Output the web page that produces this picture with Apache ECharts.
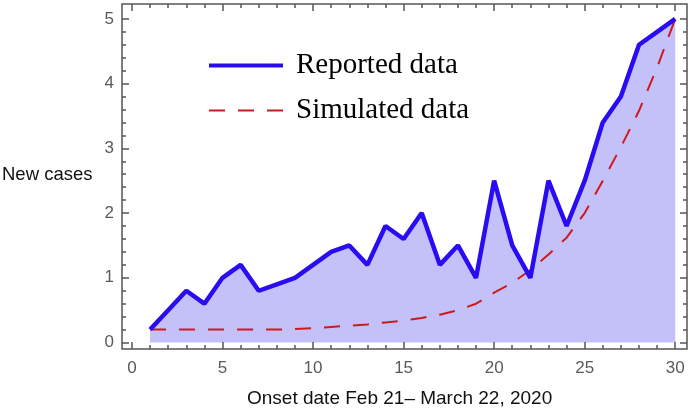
<!DOCTYPE html>
<html>
<head>
<meta charset="utf-8">
<script src="https://cdn.jsdelivr.net/npm/echarts@6/dist/echarts.min.js"></script>
<style>
  html, body { margin: 0; padding: 0; background: #fff; }
  #chart { width: 688px; height: 413px; }
</style>
</head>
<body>
<div id="chart"></div>
<script>
// onset day index (Feb 21 = 1)
const days = [1, 2, 3, 4, 5, 6, 7, 8, 9, 10, 11, 12, 13, 14, 15,
  16, 17, 18, 19, 20, 21, 22, 23, 24, 25, 26, 27, 28, 29, 30];
const reported = [0.2, 0.5, 0.8, 0.6, 1.0, 1.2, 0.8, 0.9, 1.0, 1.2, 1.4, 1.5, 1.2, 1.8, 1.6,
  2.0, 1.2, 1.5, 1.0, 2.5, 1.5, 1.0, 2.5, 1.8, 2.5, 3.4, 3.8, 4.6, 4.8, 5.0];
const simulated = [0.2, 0.2, 0.2, 0.2, 0.2, 0.2, 0.2, 0.2, 0.21, 0.22, 0.24, 0.26, 0.28, 0.31, 0.34,
  0.38, 0.43, 0.5, 0.6, 0.77, 0.92, 1.12, 1.36, 1.62, 2.0, 2.5, 3.02, 3.58, 4.25, 5.0];
const xTicks = [0, 5, 10, 15, 20, 25, 30];
const yTicks = [0, 1, 2, 3, 4, 5];

const xMinor = Array.from({ length: 31 }, (_, i) => i);
const yMinor = Array.from({ length: 26 }, (_, i) => Math.round(i * 2) / 10);

const pairs = (ys) => days.map((d, i) => [d, ys[i]]);

const X_MIN = -0.55, X_MAX = 30.65;
const Y_MIN = -0.1, Y_MAX = 5.23;
const tickColor = "#555";
const blue = "#2a0cf2";
const red = "#cc1a1f";

const tickLabel = (values, margin) => ({
  show: true,
  customValues: values,
  margin: margin,
  color: "#5a5a5a",
  fontSize: 17,
  fontFamily: "Liberation Sans",
});

const xAxisDef = (position, values, len, labels) => ({
  type: "value",
  position: position,
  min: X_MIN,
  max: X_MAX,
  axisLine: { show: false, onZero: false },
  splitLine: { show: false },
  axisTick: {
    show: true,
    inside: true,
    length: len,
    customValues: values,
    lineStyle: { color: tickColor, width: 1.5 },
  },
  axisLabel: labels ? tickLabel(values, 11) : { show: false },
  z: 5,
});

const yAxisDef = (position, values, len, labels) => ({
  type: "value",
  position: position,
  min: Y_MIN,
  max: Y_MAX,
  axisLine: { show: false, onZero: false },
  splitLine: { show: false },
  axisTick: {
    show: true,
    inside: true,
    length: len,
    customValues: values,
    lineStyle: { color: tickColor, width: 1.5 },
  },
  axisLabel: labels ? tickLabel(values, 8) : { show: false },
  z: 5,
});

const chart = echarts.init(document.getElementById("chart"));

chart.setOption({
  animation: false,
  backgroundColor: "#fff",
  grid: {
    left: 122,
    right: 1,
    top: 4,
    bottom: 64,
    show: true,
    borderColor: tickColor,
    borderWidth: 1.5,
  },
  xAxis: [
    xAxisDef("bottom", xTicks, 7, true),
    xAxisDef("bottom", xMinor, 4, false),
    xAxisDef("top", xTicks, 7, false),
    xAxisDef("top", xMinor, 4, false),
  ],
  yAxis: [
    yAxisDef("left", yTicks, 7, true),
    yAxisDef("left", yMinor, 4, false),
    yAxisDef("right", yTicks, 7, false),
    yAxisDef("right", yMinor, 4, false),
  ],
  legend: {
    orient: "vertical",
    left: 202,
    top: 46,
    itemWidth: 74,
    itemHeight: 28,
    itemGap: 16,
    data: [
      { name: "Reported data", lineStyle: { width: 4, color: blue } },
      { name: "Simulated data", lineStyle: { width: 2, color: red, type: [16, 13] } },
    ],
    itemStyle: { opacity: 0 },
    textStyle: {
      fontFamily: "Liberation Serif",
      fontSize: 29,
      color: "#000",
      padding: [0, 0, 0, 8],
    },
  },
  graphic: [
    {
      type: "text",
      left: 2,
      top: 165,
      style: {
        text: "New cases",
        fontFamily: "Liberation Sans",
        fontSize: 18.5,
        fill: "#111",
      },
    },
    {
      type: "text",
      left: 247,
      top: 389,
      style: {
        text: "Onset date Feb 21\u2013 March 22, 2020",
        fontFamily: "Liberation Sans",
        fontSize: 19,
        fill: "#111",
      },
    },
  ],
  series: [
    {
      name: "fill",
      type: "line",
      data: pairs(reported),
      symbol: "none",
      lineStyle: { width: 0 },
      areaStyle: { color: "#c4c1f8", opacity: 1 },
      z: 1,
      silent: true,
    },
    {
      name: "Simulated data",
      type: "line",
      data: pairs(simulated),
      symbol: "none",
      lineStyle: { color: red, width: 2, type: [16, 13] },
      itemStyle: { color: red },
      z: 2,
    },
    {
      name: "Reported data",
      type: "line",
      data: pairs(reported),
      symbol: "none",
      lineStyle: { color: blue, width: 4.5 },
      itemStyle: { color: blue },
      z: 3,
    },
  ],
});
</script>
</body>
</html>
